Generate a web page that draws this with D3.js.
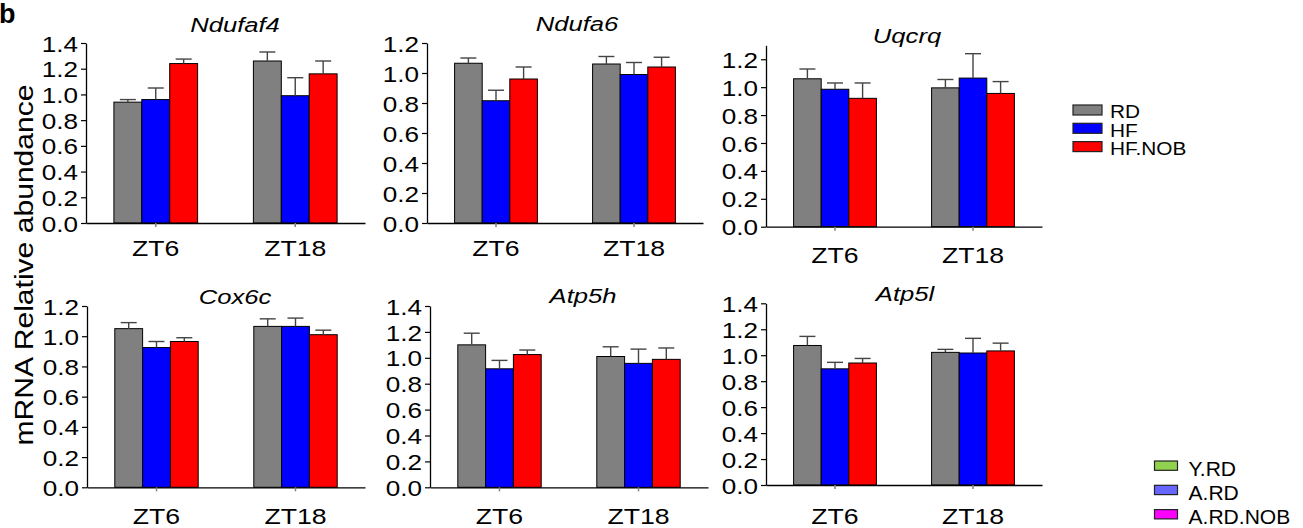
<!DOCTYPE html>
<html>
<head>
<meta charset="utf-8">
<script src="https://cdn.jsdelivr.net/npm/d3@7"></script>
<style>
  body { margin: 0; background: #fff; }
  svg { display: block; font-family: "Liberation Sans", Arial, sans-serif; }
</style>
</head>
<body>
<svg id="chart" width="1303" height="528"></svg>
<script>
// categories
const times = ["ZT6", "ZT18"];
const groups = ["RD", "HF", "HF.NOB"];
const groupColors = ["#808080", "#0000ff", "#ff0000"];
const genes = ["Ndufaf4", "Ndufa6", "Uqcrq", "Cox6c", "Atp5h", "Atp5l"];

// mean / sem per gene, rows = times, cols = groups
const ndufaf4Mean = [[0.94, 0.96, 1.24], [1.26, 0.99, 1.16]];
const ndufaf4Sem  = [[0.02, 0.09, 0.035], [0.07, 0.14, 0.10]];
const ndufa6Mean  = [[1.065, 0.815, 0.96], [1.06, 0.99, 1.04]];
const ndufa6Sem   = [[0.035, 0.07, 0.08], [0.05, 0.08, 0.065]];
const uqcrqMean   = [[1.06, 0.985, 0.92], [0.995, 1.065, 0.955]];
const uqcrqSem    = [[0.07, 0.045, 0.11], [0.06, 0.175, 0.085]];
const cox6cMean   = [[1.05, 0.925, 0.965], [1.065, 1.065, 1.01]];
const cox6cSem    = [[0.04, 0.04, 0.025], [0.05, 0.055, 0.03]];
const atp5hMean   = [[1.10, 0.915, 1.025], [1.01, 0.957, 0.988]];
const atp5hSem    = [[0.09, 0.065, 0.035], [0.075, 0.11, 0.088]];
const atp5lMean   = [[1.075, 0.895, 0.94], [1.022, 1.017, 1.033]];
const atp5lSem    = [[0.07, 0.05, 0.035], [0.023, 0.113, 0.06]];

const geneMeans = [ndufaf4Mean, ndufa6Mean, uqcrqMean, cox6cMean, atp5hMean, atp5lMean];
const geneSems = [ndufaf4Sem, ndufa6Sem, uqcrqSem, cox6cSem, atp5hSem, atp5lSem];

// axis limits and tick labels
const yMax = [1.4, 1.2, 1.3, 1.2, 1.4, 1.4];
const ticks14 = [0, 0.2, 0.4, 0.6, 0.8, 1.0, 1.2, 1.4];
const ticks12 = [0, 0.2, 0.4, 0.6, 0.8, 1.0, 1.2];
const yTicks = [ticks14, ticks12, ticks12, ticks12, ticks14, ticks14];

// the second legend in the figure
const legend2Labels = ["Y.RD", "A.RD", "A.RD.NOB"];
const legend2Colors = ["#92d050", "#6666ff", "#ff00ff"];

// panel placement
const panels = [
  { x0: 86,  x1: 365,  y0: 223,   yTop: 43,    tx: 235, ty: 31.5, ly: 32.5 },
  { x0: 427, x1: 703,  y0: 223,   yTop: 43,    tx: 577, ty: 31,   ly: 32.5 },
  { x0: 766, x1: 1042, y0: 226.7, yTop: 45.3,  tx: 907, ty: 42.5, ly: 36.5 },
  { x0: 87,  x1: 365,  y0: 487.3, yTop: 306,   tx: 235, ty: 304,  ly: 36.5 },
  { x0: 430, x1: 708,  y0: 487.3, yTop: 306,   tx: 583, ty: 303,  ly: 36.5 },
  { x0: 766, x1: 1042, y0: 485,   yTop: 303.3, tx: 905, ty: 301,  ly: 38.5 }
];

const svg = d3.select("#chart");

function stretched(sel, dx, dy, sx) {
  return sel.attr("x", 0).attr("y", 0)
    .attr("transform", `translate(${dx},${dy}) scale(${sx},1)`);
}

genes.forEach((gene, i) => {
  const p = panels[i];
  const g = svg.append("g");

  const x = d3.scaleBand().domain(times).range([p.x0, p.x1])
    .paddingInner(0.4).paddingOuter(0.2);
  const xg = d3.scaleBand().domain(groups).range([0, x.bandwidth()]);
  const y = d3.scaleLinear().domain([0, yMax[i]]).range([p.y0, p.yTop]);

  const rows = times.flatMap((t, ti) => groups.map((grp, gi) => ({
    t, grp, gi,
    mean: geneMeans[i][ti][gi],
    sem: geneSems[i][ti][gi]
  })));

  // bars
  g.selectAll("rect.bar")
    .data(rows)
    .enter()
    .append("rect")
    .attr("class", "bar")
    .attr("x", d => x(d.t) + xg(d.grp))
    .attr("y", d => y(d.mean))
    .attr("width", xg.bandwidth())
    .attr("height", d => y(0) - y(d.mean))
    .attr("fill", d => groupColors[d.gi])
    .attr("stroke", "#000")
    .attr("stroke-width", 1);

  // error bars (upper only)
  const cx = d => x(d.t) + xg(d.grp) + xg.bandwidth() / 2;
  g.selectAll("line.err")
    .data(rows)
    .enter()
    .append("line")
    .attr("class", "err")
    .attr("x1", cx).attr("x2", cx)
    .attr("y1", d => y(d.mean))
    .attr("y2", d => y(d.mean + d.sem))
    .attr("stroke", "#444").attr("stroke-width", 1.4);
  g.selectAll("line.cap")
    .data(rows)
    .enter()
    .append("line")
    .attr("class", "cap")
    .attr("x1", d => cx(d) - 8).attr("x2", d => cx(d) + 8)
    .attr("y1", d => y(d.mean + d.sem))
    .attr("y2", d => y(d.mean + d.sem))
    .attr("stroke", "#444").attr("stroke-width", 1.4);

  // y axis
  const ya = g.append("g")
    .attr("transform", `translate(${p.x0},0)`)
    .call(d3.axisLeft(y).tickValues(yTicks[i]).tickFormat(d3.format(".1f"))
      .tickSize(5).tickSizeOuter(0))
    .attr("font-size", null).attr("font-family", null);
  ya.select(".domain").attr("stroke-width", 1.3);
  ya.selectAll(".tick line").attr("stroke-width", 1.2);
  ya.selectAll(".tick text").each(function () {
    stretched(d3.select(this), -8, 0, 1.16)
      .attr("dy", "0.36em").attr("font-size", 22.5).attr("fill", "#000");
  });

  // x axis
  const xa = g.append("g")
    .attr("transform", `translate(0,${p.y0})`)
    .call(d3.axisBottom(x).tickSize(4).tickSizeOuter(0))
    .attr("font-size", null).attr("font-family", null);
  xa.select(".domain").attr("stroke-width", 1.3);
  xa.selectAll(".tick line").attr("stroke", "#808080").attr("stroke-width", 1.5);
  xa.selectAll(".tick text").each(function () {
    stretched(d3.select(this), 0, p.ly, 1.24)
      .attr("dy", 0).attr("font-size", 21.5).attr("fill", "#000");
  });

  // title
  stretched(g.append("text"), p.tx, p.ty, 1.22)
    .attr("text-anchor", "middle")
    .attr("font-size", 21)
    .attr("font-style", "italic")
    .text(gene);
});

// y label
svg.append("text")
  .attr("transform", "translate(33,265) rotate(-90) scale(1.18,1)")
  .attr("text-anchor", "middle")
  .attr("font-size", 25.5)
  .text("mRNA Relative abundance");

// panel letter
svg.append("text")
  .attr("x", -1).attr("y", 23)
  .attr("font-size", 27)
  .attr("font-weight", "bold")
  .text("b");

// legend for RD / HF / HF.NOB
const leg1 = svg.append("g").attr("transform", "translate(1073,105)");
groups.forEach((name, k) => {
  leg1.append("rect")
    .attr("x", 0).attr("y", k * 18.3)
    .attr("width", 29).attr("height", 10)
    .attr("fill", groupColors[k]).attr("stroke", "#222").attr("stroke-width", 1.2);
  stretched(leg1.append("text"), 37, k * 18.3 + 13.3, 1.12)
    .attr("font-size", 18.6)
    .text(name);
});

// second legend
const leg2 = svg.append("g").attr("transform", "translate(1154.5,461)");
legend2Labels.forEach((name, k) => {
  leg2.append("rect")
    .attr("x", 0).attr("y", k * 24.3)
    .attr("width", 23).attr("height", 9.3)
    .attr("fill", legend2Colors[k]).attr("stroke", "#222").attr("stroke-width", 1.2);
  stretched(leg2.append("text"), 34, k * 24.3 + 14.7, 1.08)
    .attr("font-size", 19.5)
    .text(name);
});
</script>
</body>
</html>
